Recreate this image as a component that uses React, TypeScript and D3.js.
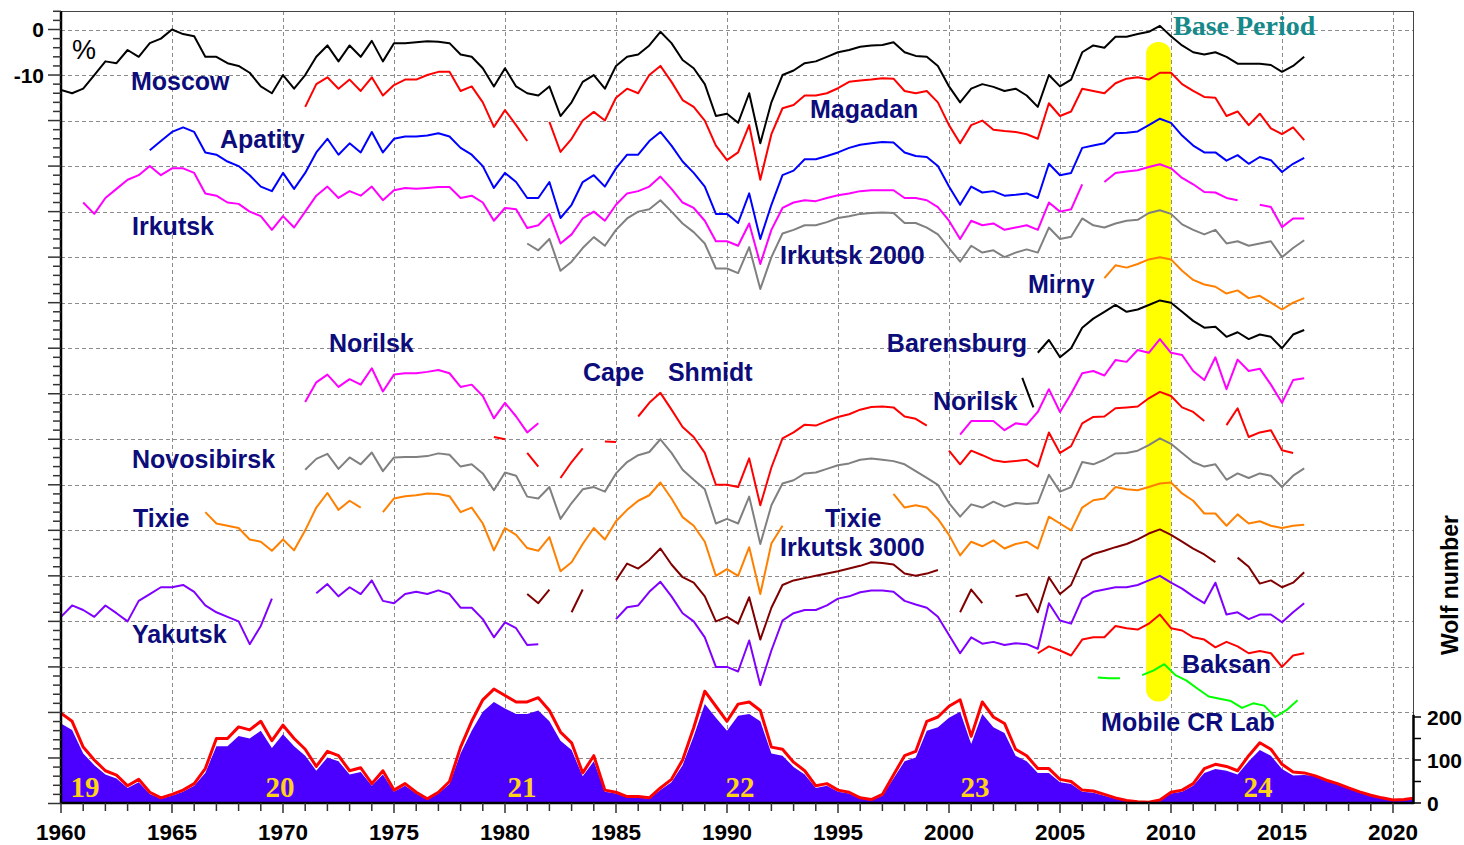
import React from 'react';
import * as d3 from 'd3';

const W = 1464, H = 845;
const PL = 61, PR = 1413, PT = 11, PB = 803;
const STEP = 0.5;

// ---- station series (percent, 0.5-year steps from the start year; null = gap) ----
const moscow = [-13.3,-14,-13,-10,-7,-7.4,-4.5,-6,-3,-2, 0,-1,-1.5,-6,-6,-7.4,-8,-9.5,-12.5,-14, -10,-13,-10,-6,-3.5,-7,-3.5,-6,-2.5,-7, -3,-3,-2.8,-2.6,-2.7,-3,-5.5,-6,-8.5,-12.5, -8.5,-12.5,-14,-14.5,-12.5,-19,-16,-11.5,-10,-13, -8,-6,-5.5,-3.5,-0.5,-3,-6.7,-8.5,-12,-19, -18.5,-20.5,-14,-25,-16,-10,-9,-7.4,-7,-6, -5,-4.5,-3.8,-3.5,-3.4,-2.8,-5,-5.8,-6,-8, -12.5,-16,-13,-12,-12.6,-13.5,-13,-14.5,-17,-10, -12.5,-11,-5,-3.5,-4,-1.6,-1.6,-1,-0.5,0.8, -1.5,-3.5,-5,-5.5,-5,-6,-7.5,-7.5,-7.5,-7.8, -9.3,-8,-6];
const magadan = [-17,-12,-10.5,-13,-11,-13.5,-10.5,-14.5,-12.2,-11, -11,-10,-9.3,-9.3,-13.5,-12.5,-16,-21.4,-17.7,-21, -24.5,null,-20.3,-26.9,-24,-20,-18.1,-20,-15,-13, -14,-10,-8,-11.5,-15.5,-17,-20,-25.5,-28.7,-27, -21,-33,-23,-17.3,-16.6,-14.5,-14.5,-14,-12.9,-11.5, -11.2,-11,-10.7,-10.8,-13.5,-14,-13.5,-16,-21,-25, -21,-20,-22,-22.3,-22.5,-23,-24,-16.2,-19,-18, -13,-13.5,-14,-11.8,-10.8,-10.5,-11,-9.5,-9.5,-12, -13.5,-14.8,-15,-19,-18,-21,-18.5,-21.7,-23,-21.5, -24.3];
const apatity = [-26.5,-24.5,-22.5,-21.5,-22.5,-27,-27.5,-29,-30,-32, -34.5,-35.5,-31.5,-35,-31.5,-27,-24,-27.5,-25,-27, -22.5,-27,-24,-23.5,-23.5,-23.3,-22.8,-23.5,-26,-27.5, -30,-34.8,-31.5,-33.5,-37,-37,-33.5,-41.4,-38.5,-33.5, -32,-34.5,-30.5,-27.5,-27.5,-24.5,-22.5,-25.5,-29,-31.5, -34.5,-40.5,-40.5,-42.5,-36,-46,-38.5,-32,-31,-28.5, -28.5,-27.8,-27,-26,-25.3,-25,-24.7,-24.8,-27,-27.8, -28,-30,-34.5,-38.5,-34.5,-35.8,-35.5,-36.5,-36.3,-36, -37,-29.5,-32,-31.5,-26,-25.5,-25,-22.8,-22.7,-22.4, -21,-19.6,-20.5,-23.3,-25.5,-27,-27,-28.8,-27.6,-29.5, -28,-28.7,-31.3,-29.5,-28.2];
const irkutsk = [-38,-40.5,-37,-35,-33,-32,-30,-32,-30.5,-30.5, -31.5,-36,-36.5,-38,-38.3,-40,-41,-44,-41,-43.5, -40,-36.5,-34.5,-37,-35.5,-36.5,-34.5,-37.5,-35.3,-34.8, -35,-34.8,-34.6,-34.6,-37,-36.5,-38,-42,-39.2,-39.5, -43.6,-43,-40.5,-47,-45,-41.5,-40,-42,-38.5,-36, -35.5,-34.5,-32.3,-35,-38,-39.2,-42,-46.5,-46.5,-47.5, -42.6,-51.5,-44,-39.2,-38,-37.5,-37.7,-37,-36.4,-36, -35.5,-35.3,-35.3,-35.3,-37,-37,-37.5,-39,-42,-46, -42,-43,-42.6,-44,-43.5,-43,-44,-38,-40,-39.5, -34,null,-33.5,-31.5,-31.2,-30.9,-30.2,-29.6,-30.5,-32.6, -34,-35.7,-35.8,-37,-37.5,null,-38.5,-39,-43.4,-41.5, -41.5];
const irkutsk2000 = [-47,-48.5,-46,-53,-51,-48,-45.6,-47.5,-44,-41.5, -40,-39.5,-37.5,-40,-42.6,-44.5,-47,-52.5,-52.5,-53.5, -47.8,-57,-50,-44.8,-44,-43,-43,-42.3,-41.4,-41, -40.5,-40.3,-40.2,-40.3,-42.5,-42.5,-43.5,-45,-48,-51, -47.5,-49,-48.5,-50,-49,-48.3,-49,-43.5,-46,-45.5, -41.5,-43,-43.5,-42.6,-42,-41.8,-40.3,-39.7,-40.5,-42.8, -44,-45,-44,-47,-46.5,-47.5,-47,-46.5,-50,-48, -46.3];
const mirny = [-54.6,-51.8,-52.3,-51.5,-50.5,-50,-50.5,-53,-55,-56,-56.5,-58,-57.3,-59,-58.5,-60,-61.5,-60,-59];
const barentsburgEarly = [-76.5,-83];
const barentsburg = [-71,-68.2,-72,-70,-65.5,-63.5,-62,-60.5,-62,-61.5,-60.5,-59.5,-60,-62,-64,-65.5,-65.3,-67.5,-66.5,-68,-67,-67.5,-70,-67,-66];
const norilskEarly = [-81.8,-77.5,-75.8,-78.5,-76.8,-78,-74.4,-79.5,-75.8,-75.5,-75.5,-75.2,-74.8,-75.5,-78.5,-78,-80.5,-85.4,-82,-85,-88.5,-86.5];
const norilskLate = [-89,-86,-86,-86,-88,-86.5,-86.8,-84,-79,-84, -80,-75.5,-75,-76,-72.6,-73,-70.4,-71,-68,-71, -71.5,-75,-77,-72,-79,-72.5,-75,-74.5,-78,-82, -77,-76.6];
const capeShmidt = [-89.5,-90,null,-93,-96,null,-98.5,-95,-92,null, -90.5,-90.6,null,-85,-82,-79.8,-83.5,-87.3,-89.5,-93, -100,-100,-100.5,-94.2,-104.5,-96.2,-89.8,-88.5,-86.8,-87, -86,-85.1,-84.5,-83.5,-82.9,-82.8,-83,-85,-85.5,-87, null,-92.5,-95.5,-92.5,-93.5,-94.6,-95,-94.8,-94.5,-96, -88.5,-93,-91.5,-86.5,-85.1,-85,-83.2,-83,-82.8,-81, -79.6,-80.5,-83,-84,-86,null,-86.9,-83.2,-89.5,-88.5, -88,-92.4,-93];
const novosibirsk = [-96.7,-94.3,-93.2,-96.5,-94,-95.5,-92.9,-97,-94,-93.9, -93.9,-93.7,-93.1,-93.4,-96,-95.5,-97.5,-101.2,-97.3,-98, -102.6,-103,-100.5,-107.5,-104,-101,-100.5,-101.5,-97.5,-95, -93.5,-92.8,-90,-93,-96.7,-98.9,-101,-108.5,-107.5,-108.5, -102.6,-113,-104.5,-99.7,-99,-97.5,-97.3,-96.5,-95.7,-95.3, -94.5,-94.2,-94.5,-94.8,-95.5,-97,-98.5,-100,-104,-107, -104.3,-105,-103.7,-104.8,-104,-104.2,-104,-97.8,-101.5,-100.5, -95,-95.5,-94.5,-93.1,-93,-92.5,-91.3,-89.8,-91,-93, -95,-96,-95.5,-98.9,-97.5,-98.5,-97.5,-98,-100.5,-98, -96.4];
const tixie = [-106,-108.5,-109,-109.5,-112,-112.5,-114.5,-112,-114.4,-110, -105,-101.8,-105.5,-103.5,-105,null,-106,-103,-102.5,-102.3, -101.9,-102,-102.5,-106,-105,-108.5,-114.4,-109.5,-111,-113.9, -114.5,-111.5,-119,-117,-113,-109.5,-112,-108,-105.5,-103.5, -102.3,-99.5,-103,-107.1,-109,-112.5,-120,-118.5,-120,-113.7, -124,-112.9,-109,null,null,null,null,null,null,null, null,null,-102,-105,-104.5,-105,-107.5,-111,-115.5,-112.5, -113.5,-112.2,-114,-113,-112.5,-114,-107,-108.5,-110,-105, -103.4,-103,-100.5,-101,-101.2,-100.5,-99.7,-99.5,-101.9,-103.5, -106.3,-106.3,-109,-106.5,-108.5,-108,-109,-109.5,-109,-108.8];
const irkutsk3000 = [-124,-126,-123,null,-128,-123,null,null,-121,-117.3, -118.4,-116.5,-114,-117.5,-120.3,-121.5,-124.5,-130,-129,-130.5, -124.7,-134,-127,-122,-121,-120.5,-120,-119.5,-119,-118.4, -117.8,-117,-117.2,-117.5,-119.5,-120,-119.5,-118.7,null,-128, -123,-126,null,null,-124.5,-124,-128,-120.3,-124,-122, -116.5,-115.2,-114.5,-113.7,-113,-112,-110.7,-109.8,-111,-112.5, -114,-115.3,-117,null,-116,-118,-121.7,-121,-122.5,-121.5, -119.2];
const yakutsk = [-129,-126.5,-127.5,-129,-126.5,-128.2,-130,-125.5,-124,-122.5, -122.5,-122,-123.5,-126.5,-128,-129,-130,-135,-131,-125, null,null,null,-123.8,-121.8,-124.5,-122.5,-124,-121,-125.5, -126,-124,-123.5,-124,-123.2,-124,-127,-127,-129.5,-133.5, -130.2,-131.5,-135.2,-135,null,null,null,null,null,null, -129.5,-126.9,-126.5,-123.5,-121.3,-124.5,-128.2,-130,-133.5,-140, -140,-141,-134.2,-144,-136.4,-129.8,-128.2,-127.5,-127.5,-126.5, -125,-124.5,-123.6,-123.2,-123.2,-123.5,-125.5,-126.3,-127,-129, -133,-137,-133.5,-134.9,-134.5,-135.2,-134.8,-135,-136,-126, -129.8,-130.5,-125,-123.5,-123,-122.5,-122.5,-122,-121,-120, -121.5,-122.8,-124.5,-126,-121.5,-128.5,-128,-129.5,-128.5,-128.5, -130.2,-128,-126];
const baksan = [-137,-135.5,-136.4,-137.5,-134,-133.5,-133.5,-131,-131.5,-131.8,-130.5,-128.5,-131.5,-132,-133.5,-134,-135.7,-134.5,-135.5,-137,-136.5,-137,-140,-137.5,-137];
const mobileLab = [-142.3,-142.5,-142.5,null,-141.8,-140.8,-139.4,-141.8,-143,-144.8,-146.5,-147,-147.5,-149,-148,-148.5,-151,-149.5,-147.3];

// ---- sunspot (Wolf) numbers, 0.5-year steps from 1960 ----
const wolfRed = [209,190,130,100,75,65,40,55,25,12, 20,30,45,80,150,150,177,170,190,145, 181,150,125,85,120,110,75,82,45,75, 30,45,25,10,25,50,130,190,240,265, 250,235,235,245,215,165,140,70,110,30, 25,15,15,12,35,55,100,175,260,225, 190,230,235,215,130,125,95,75,40,45, 30,25,12,8,20,65,110,120,190,200, 225,240,155,235,200,185,125,110,80,80, 55,50,30,28,20,12,6,3,2,7, 25,30,45,80,90,85,75,110,140,125, 90,72,70,63,53,45,35,26,18,12, 7,8,12];
const wolfBlue = [185,170,115,88,66,57,35,48,21,10, 17,26,40,70,132,132,156,150,168,128, 160,132,110,75,106,97,66,72,40,66, 26,40,22,8,22,44,115,168,212,235, 220,207,207,215,190,145,123,62,97,26, 22,13,13,10,30,48,88,155,230,198, 168,203,207,190,115,110,84,66,35,40, 26,22,10,7,17,57,97,106,168,176, 198,212,137,207,176,163,110,97,70,70, 48,44,26,24,17,10,5,2,1,6, 22,26,40,70,79,75,66,97,123,110, 79,64,65,63,53,45,35,26,18,12, 7,8,12];

const cycleNames = ['19', '20', '21', '22', '23', '24'];
const cycleYears = [1961.08, 1969.86, 1980.77, 1990.59, 2001.17, 2013.92];

const yearLabels = d3.range(1960, 2021, 5);
const leftLabels = [0, -10];
const rightLabels = [200, 100, 0];
const basePeriod = [2008.88, 2010.0];
const baseSpan = [-2.75, -147.6];

const stationSeries = [
  { start: 1960, vals: moscow, color: '#000000' },
  { start: 1971, vals: magadan, color: '#ff0000' },
  { start: 1964, vals: apatity, color: '#0000ff' },
  { start: 1961, vals: irkutsk, color: '#ff00ff' },
  { start: 1981, vals: irkutsk2000, color: '#808080' },
  { start: 2007, vals: mirny, color: '#ff8000' },
  { start: 2003.3, vals: barentsburgEarly, color: '#000000' },
  { start: 2004, vals: barentsburg, color: '#000000' },
  { start: 1971, vals: norilskEarly, color: '#ff00ff' },
  { start: 2000.5, vals: norilskLate, color: '#ff00ff' },
  { start: 1979.5, vals: capeShmidt, color: '#ff0000' },
  { start: 1971, vals: novosibirsk, color: '#808080' },
  { start: 1966.5, vals: tixie, color: '#ff8000' },
  { start: 1981, vals: irkutsk3000, color: '#800000' },
  { start: 1960, vals: yakutsk, color: '#8000ff' },
  { start: 2004, vals: baksan, color: '#ff0000' },
  { start: 2006.7, vals: mobileLab, color: '#00ff00' },
];

const stationLabels: [string, number, number][] = [
  ['Moscow', 1963.15, -13.3],
  ['Apatity', 1967.16, -26.0],
  ['Irkutsk', 1963.2, -45.1],
  ['Magadan', 1993.74, -19.4],
  ['Irkutsk 2000', 1992.39, -51.5],
  ['Mirny', 2003.56, -57.9],
  ['Barensburg', 1997.2, -70.8],
  ['Norilsk', 1972.07, -70.8],
  ['Cape', 1983.51, -77.2],
  ['Shmidt', 1987.34, -77.2],
  ['Norilsk', 1999.28, -83.6],
  ['Novosibirsk', 1963.2, -96.3],
  ['Tixie', 1963.24, -109.3],
  ['Tixie', 1994.41, -109.3],
  ['Irkutsk 3000', 1992.39, -115.6],
  ['Yakutsk', 1963.2, -134.7],
  ['Baksan', 2010.5, -141.3],
  ['Mobile CR Lab', 2006.85, -154.1],
];

const x = d3.scaleLinear().domain([1960, 2020]).range([61, 1393]);
const y = d3.scaleLinear().domain([-170, 0]).range([803.5, 29.5]);
const ys = d3.scaleLinear().domain([0, 200]).range([803, 717]);

const SANS = '"Liberation Sans", Arial, sans-serif';
const SERIF = '"Liberation Serif", "Times New Roman", serif';

type P = [number, number | null];

export default function App() {
  const toPts = (start: number, vals: (number | null)[]): P[] =>
    vals.map((v, i) => [start + i * STEP, v] as P);
  const line = d3.line<P>()
    .defined(d => d[1] !== null)
    .x(d => x(d[0]))
    .y(d => y(d[1] as number));
  const wolfPts = (vals: number[]) => vals.map((v, i) => [1960 + i * STEP, v] as [number, number]);
  const wLine = d3.line<[number, number]>().x(d => x(d[0])).y(d => ys(d[1]));
  const wArea = d3.area<[number, number]>().x(d => x(d[0])).y0(ys(0)).y1(d => ys(d[1]));

  const hGrid = d3.range(0, -170, -10);
  const vGrid = d3.range(1965, 2021, 5);
  const leftTicks = d3.range(-170, 5, 2);
  const yearTicks = d3.range(1960, 2021, 1);

  return (
    <svg width={W} height={H} style={{ position: 'absolute', left: 0, top: 0, background: '#fff' }}>
      <defs>
        <clipPath id="plotClip">
          <rect x={PL} y={PT} width={PR - PL} height={PB - PT} />
        </clipPath>
      </defs>
      <rect x={0} y={0} width={W} height={H} fill="#fff" />
      {/* grid */}
      <g stroke="#8c8c8c" strokeWidth={1} strokeDasharray="4,3">
        {hGrid.map(v => <line key={'h' + v} x1={PL} x2={PR} y1={Math.round(y(v)) + 0.5} y2={Math.round(y(v)) + 0.5} />)}
        {vGrid.map(t => <line key={'v' + t} x1={Math.round(x(t)) + 0.5} x2={Math.round(x(t)) + 0.5} y1={PT} y2={PB} />)}
      </g>
      {/* base period highlight */}
      <rect x={x(basePeriod[0])} width={x(basePeriod[1]) - x(basePeriod[0])}
        y={y(baseSpan[0])} height={y(baseSpan[1]) - y(baseSpan[0])} rx={12} fill="#ffff00" />
      {/* sunspots */}
      <g clipPath="url(#plotClip)">
        <path d={wArea(wolfPts(wolfBlue)) || ''} fill="#4b00ff" />
        <path d={wLine(wolfPts(wolfRed)) || ''} fill="none" stroke="#ff0000" strokeWidth={3} strokeLinejoin="round" />
      </g>
      {/* station curves */}
      <g clipPath="url(#plotClip)" fill="none" strokeWidth={2} strokeLinejoin="round">
        {stationSeries.map((s, i) => (
          <path key={i} d={line(toPts(s.start, s.vals)) || ''} stroke={s.color} />
        ))}
      </g>
      {/* frame */}
      <line x1={PL} x2={PR} y1={PT + 0.5} y2={PT + 0.5} stroke="#444" strokeWidth={1} />
      <line x1={PR + 0.5} x2={PR + 0.5} y1={PT} y2={PB} stroke="#444" strokeWidth={1} />
      <line x1={PR + 0.5} x2={PR + 0.5} y1={ys(205)} y2={PB + 1} stroke="#000" strokeWidth={2.5} />
      <line x1={PL} x2={PL} y1={PT} y2={PB + 1} stroke="#000" strokeWidth={2.5} />
      <line x1={PL} x2={PR + 1} y1={PB} y2={PB} stroke="#000" strokeWidth={2.5} />
      {/* left ticks */}
      <g stroke="#333" strokeWidth={1.5}>
        {leftTicks.map(v => (
          <line key={'lt' + v} x1={v % 10 === 0 ? 48 : 53} x2={PL} y1={y(v)} y2={y(v)} />
        ))}
      </g>
      {/* bottom ticks */}
      <g stroke="#333" strokeWidth={1.5}>
        {yearTicks.map(t => (
          <line key={'bt' + t} x1={x(t)} x2={x(t)} y1={PB} y2={PB + (t % 5 === 0 ? 10 : 8)} />
        ))}
      </g>
      {/* right ticks */}
      <g stroke="#000" strokeWidth={1.5}>
        {[0, 50, 100, 150, 200].map(v => (
          <line key={'rt' + v} x1={PR} x2={PR + 8} y1={ys(v)} y2={ys(v)} />
        ))}
      </g>
      {/* axis labels */}
      <g fontFamily={SANS} fontWeight="bold" fontSize={21} fill="#000">
        {yearLabels.map(t => (
          <text key={'yl' + t} x={x(t)} y={840} textAnchor="middle" fontSize={22.5}>{t}</text>
        ))}
        {leftLabels.map(v => (
          <text key={'ll' + v} x={44} y={y(v)} dy="0.36em" textAnchor="end">{v}</text>
        ))}
        {rightLabels.map(v => (
          <text key={'rl' + v} x={1427} y={ys(v)} dy="0.36em" textAnchor="start">{v}</text>
        ))}
        <text transform="translate(1458,585) rotate(-90)" textAnchor="middle" fontSize={23}>Wolf number</text>
      </g>
      <text x={x(1960.5)} y={y(-6.5)} fontFamily={SANS} fontSize={27} fill="#000">%</text>
      {/* station labels */}
      <g fontFamily={SANS} fontWeight="bold" fontSize={25} fill="#0c0c7a">
        {stationLabels.map(([t, yr, v], i) => (
          <text key={'sl' + i} x={x(yr)} y={y(v)}>{t}</text>
        ))}
      </g>
      {/* cycle numbers */}
      <g fontFamily={SERIF} fontWeight="bold" fontSize={29} fill="#ffd21a" textAnchor="middle">
        {cycleNames.map((c, i) => (
          <text key={'c' + c} x={x(cycleYears[i])} y={ys(14)}>{c}</text>
        ))}
      </g>
      <text x={x(2010.09)} y={y(-1.2)} fontFamily={SERIF} fontWeight="bold" fontSize={28} fill="#168a8a">Base Period</text>
    </svg>
  );
}
